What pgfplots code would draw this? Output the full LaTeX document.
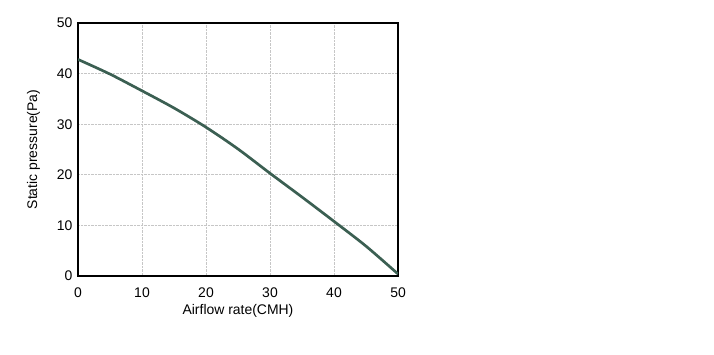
\documentclass[border=0pt]{standalone}
\usepackage{pgfplots}
\pgfplotsset{compat=1.18}
\usepackage{fontspec}
\setmainfont{Liberation Sans}
\definecolor{curve}{HTML}{3B5F52}
\begin{document}
\begin{tikzpicture}[x=1bp,y=1bp]
\useasboundingbox (0,0) rectangle (714,354);
\begin{axis}[
  at={(78bp,78bp)}, anchor=south west,
  scale only axis, width=320bp, height=253bp,
  xmin=0, xmax=50, ymin=0, ymax=50,
  xtick={0,10,...,50}, ytick={0,10,...,50},
  grid=major,
  major grid style={gray!45, densely dotted, line width=0.8pt},
  axis line style={black, line width=1.2pt},
  tick style={draw=none},
  /pgf/number format/assume math mode=true,
  ticklabel style={font=\fontsize{14}{16}\selectfont},
  label style={font=\fontsize{14}{16}\selectfont},
  xticklabel style={yshift=-8bp},
  yticklabel style={xshift=-2bp},
  xlabel={Airflow rate(CMH)},
  ylabel={Static pressure(Pa)},
  xlabel style={yshift=0bp},
  ylabel style={yshift=10bp},
]
\addplot[curve, line width=2.7pt, smooth] coordinates {
(0,42.8) (5,39.9) (10,36.6) (15,33.2) (20,29.4) (25,25.1) (30,20.3) (35,15.6) (40,10.8) (45,5.9) (50,0.4)
};
\end{axis}
\end{tikzpicture}
\end{document}
